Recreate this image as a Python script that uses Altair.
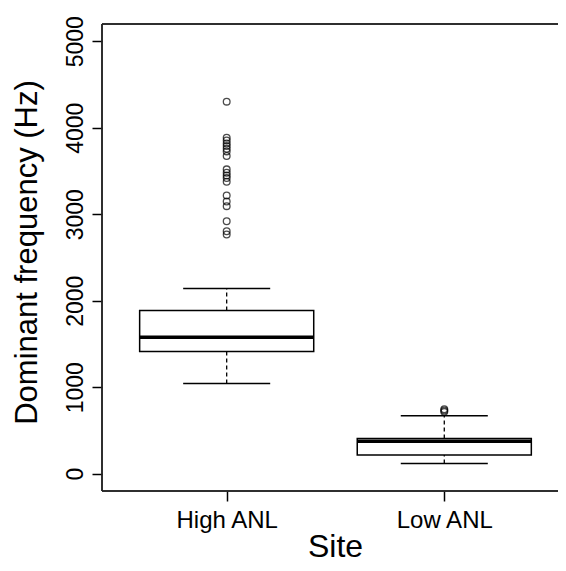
import altair as alt
import pandas as pd

# ---- data ----
sites = ["High ANL", "Low ANL"]
positions = [1, 2]
whisker_low = [1042, 119]
q1 = [1412, 216]
median = [1578, 374]
q3 = [1887, 408]
whisker_high = [2141, 671]

high_outliers = [4302, 3885, 3854, 3819, 3788, 3758, 3727, 3673,
                 3519, 3480, 3449, 3418, 3376, 3218, 3148, 3094,
                 2920, 2804, 2766]
low_outliers = [715, 730, 745]

y_ticks = [0, 1000, 2000, 3000, 4000, 5000]

# ---- tables ----
box_df = pd.DataFrame({
    "site": sites, "pos": positions, "wlo": whisker_low, "q1": q1,
    "med": median, "q3": q3, "whi": whisker_high,
})
box_df["left"] = box_df["pos"] - 0.4
box_df["right"] = box_df["pos"] + 0.4
box_df["capl"] = box_df["pos"] - 0.2
box_df["capr"] = box_df["pos"] + 0.2

out_df = pd.DataFrame({
    "pos": [1] * len(high_outliers) + [2] * len(low_outliers),
    "value": high_outliers + low_outliers,
})

FONT = "Liberation Sans"
W, H = 456, 467

xs = alt.Scale(domain=[0.427, 0.427 + W / 217.6], nice=False, zero=False)
ys = alt.Scale(domain=[-200, 5200], nice=False, zero=False)

x_axis = alt.Axis(values=[1, 2],
                  labelExpr="datum.value == 1 ? 'High ANL' : 'Low ANL'",
                  title="Site", domain=False, grid=False,
                  tickSize=10, tickWidth=1.5, tickColor="black",
                  labelFont=FONT, labelFontSize=24, labelColor="black",
                  labelPadding=7,
                  titleFont=FONT, titleFontSize=32, titleFontWeight="normal",
                  titleColor="black", titleBaseline="alphabetic", titleY=65,
                  titleX=233)

y_axis = alt.Axis(values=y_ticks, format="d", title="Dominant frequency (Hz)",
                  domain=False, grid=False,
                  tickSize=10, tickWidth=1.5, tickColor="black",
                  labelFont=FONT, labelFontSize=23, labelColor="black",
                  labelAngle=270, labelAlign="center",
                  labelBaseline="alphabetic", labelPadding=10,
                  titleFont=FONT, titleFontSize=31, titleFontWeight="normal",
                  titleColor="black", titleAngle=270, titleAlign="center",
                  titleBaseline="alphabetic", titleX=-66, titleY=228)

base = alt.Chart(box_df)

frame_top = base.mark_rule(color="#222", strokeWidth=1.5).encode(
    x=alt.value(0), x2=alt.value(W), y=alt.value(0))
frame_left = base.mark_rule(color="#222", strokeWidth=1.5).encode(
    x=alt.value(0), y=alt.value(0), y2=alt.value(H))
frame_bottom = base.mark_rule(color="#222", strokeWidth=1.5).encode(
    x=alt.value(0), x2=alt.value(W), y=alt.value(H))

boxes = base.mark_rect(fill="white", stroke="black", strokeWidth=1.5).encode(
    x=alt.X("left:Q", scale=xs, axis=x_axis),
    x2="right:Q",
    y=alt.Y("q1:Q", scale=ys, axis=y_axis),
    y2="q3:Q",
)

medians = base.mark_rule(color="black", strokeWidth=3.5).encode(
    x=alt.X("left:Q", scale=xs, axis=x_axis), x2="right:Q",
    y=alt.Y("med:Q", scale=ys, axis=y_axis),
)

whisk_up = base.mark_rule(color="black", strokeWidth=1.3, strokeDash=[4, 3]).encode(
    x=alt.X("pos:Q", scale=xs, axis=x_axis),
    y=alt.Y("q3:Q", scale=ys, axis=y_axis), y2="whi:Q",
)
whisk_dn = base.mark_rule(color="black", strokeWidth=1.3, strokeDash=[4, 3]).encode(
    x=alt.X("pos:Q", scale=xs, axis=x_axis),
    y=alt.Y("wlo:Q", scale=ys, axis=y_axis), y2="q1:Q",
)

cap_hi = base.mark_rule(color="black", strokeWidth=1.5).encode(
    x=alt.X("capl:Q", scale=xs, axis=x_axis), x2="capr:Q",
    y=alt.Y("whi:Q", scale=ys, axis=y_axis),
)
cap_lo = base.mark_rule(color="black", strokeWidth=1.5).encode(
    x=alt.X("capl:Q", scale=xs, axis=x_axis), x2="capr:Q",
    y=alt.Y("wlo:Q", scale=ys, axis=y_axis),
)

outliers = alt.Chart(out_df).mark_point(
    shape="circle", filled=False, color="black", size=45, strokeWidth=1.3
).encode(
    x=alt.X("pos:Q", scale=xs, axis=x_axis),
    y=alt.Y("value:Q", scale=ys, axis=y_axis),
)

chart = alt.layer(
    boxes, whisk_up, whisk_dn, cap_hi, cap_lo, medians, outliers,
    frame_top, frame_left, frame_bottom,
).properties(
    width=W, height=H,
    autosize=alt.AutoSizeParams(type="none"),
    padding={"left": 94, "top": 16, "right": 0, "bottom": 72},
    background="white",
).configure_view(stroke=None)

chart.save("out.html", embed_options={"renderer": "svg", "actions": False})
